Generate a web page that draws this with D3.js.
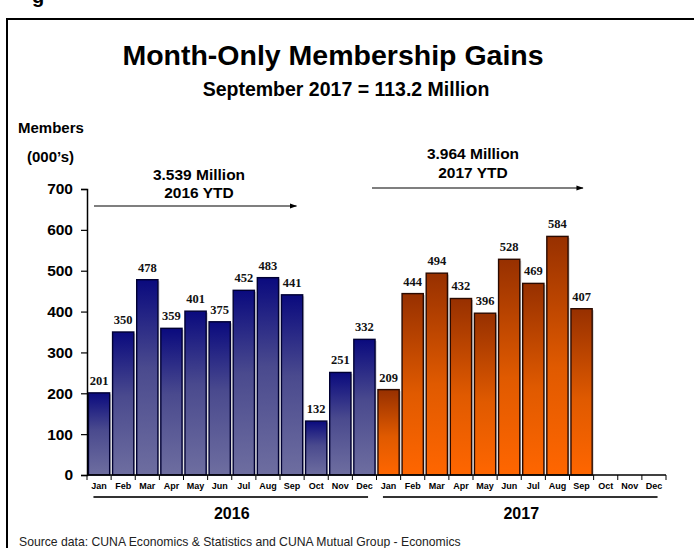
<!DOCTYPE html>
<html>
<head>
<meta charset="utf-8">
<script src="https://cdn.jsdelivr.net/npm/d3@7"></script>
<style>
  html, body { margin: 0; padding: 0; background: #fff; }
  svg { display: block; }
  text { font-family: Arial, "Liberation Sans", sans-serif; }
  text.value { font-family: "Liberation Serif", "Times New Roman", serif; }
</style>
</head>
<body>
<svg id="chart" width="694" height="548"></svg>
<script>
// Monthly membership gains (thousands of members)
const months = ["Jan", "Feb", "Mar", "Apr", "May", "Jun", "Jul", "Aug", "Sep", "Oct", "Nov", "Dec"];
const years = ["2016", "2017"];
const gains2016 = [201, 350, 478, 359, 401, 375, 452, 483, 441, 132, 251, 332];
const gains2017 = [209, 444, 494, 432, 396, 528, 469, 584, 407, null, null, null];
const yTicks = [0, 100, 200, 300, 400, 500, 600, 700];
const ytdNotes = [
  { year: "2016", lines: ["3.539 Million", "2016 YTD"], fromMonth: "Jan", toMonth: "Sep" },
  { year: "2017", lines: ["3.964 Million", "2017 YTD"], fromMonth: "Jan", toMonth: "Sep" }
];

const svg = d3.select("#chart");

const rows = [];
years.forEach((yr, yi) => {
  const vals = yi === 0 ? gains2016 : gains2017;
  months.forEach((m, mi) => rows.push({ key: yr + "-" + m, year: yr, month: m, value: vals[mi] }));
});

const x = d3.scaleBand()
  .domain(rows.map(d => d.key))
  .range([87, 666])
  .paddingInner(0.12)
  .paddingOuter(0.06);

const y = d3.scaleLinear().domain([0, 700]).range([475, 189]);

// Gradients
const defs = svg.append("defs");
const gBlue = defs.append("linearGradient").attr("id", "gradBlue")
  .attr("x1", 0).attr("y1", 0).attr("x2", 0).attr("y2", 1);
gBlue.append("stop").attr("offset", "0%").attr("stop-color", "#0a0a7e");
gBlue.append("stop").attr("offset", "45%").attr("stop-color", "#4a4a8e");
gBlue.append("stop").attr("offset", "100%").attr("stop-color", "#6e6ea0");

const gOrange = defs.append("linearGradient").attr("id", "gradOrange")
  .attr("x1", 0).attr("y1", 0).attr("x2", 0).attr("y2", 1);
gOrange.append("stop").attr("offset", "0%").attr("stop-color", "#973000");
gOrange.append("stop").attr("offset", "55%").attr("stop-color", "#e05a00");
gOrange.append("stop").attr("offset", "100%").attr("stop-color", "#ff6600");

// Partial heading glyph above the frame
svg.append("text").attr("x", 32).attr("y", 3)
  .attr("font-size", 20).attr("font-weight", "bold").attr("fill", "#000").text("g");

// Frame
svg.append("rect").attr("x", 7).attr("y", 19).attr("width", 700).attr("height", 540)
  .attr("fill", "none").attr("stroke", "#000").attr("stroke-width", 2);

// Titles
svg.append("text").attr("x", 333).attr("y", 65).attr("text-anchor", "middle")
  .attr("font-size", 28.5).attr("font-weight", "bold").text("Month-Only Membership Gains");
svg.append("text").attr("x", 346).attr("y", 96).attr("text-anchor", "middle")
  .attr("font-size", 19.5).attr("font-weight", "bold").text("September 2017 = 113.2 Million");

// Y axis caption
svg.append("text").attr("x", 18).attr("y", 133)
  .attr("font-size", 15).attr("font-weight", "bold").text("Members");
svg.append("text").attr("x", 27).attr("y", 162)
  .attr("font-size", 15).attr("font-weight", "bold").text("(000\u2019s)");

// Bars
const bars = rows.filter(d => d.value != null);
svg.append("g").selectAll("rect.shadow").data(bars).join("rect")
  .attr("x", d => x(d.key) + 1.5)
  .attr("y", d => y(d.value) + 1.5)
  .attr("width", x.bandwidth())
  .attr("height", d => y(0) - y(d.value) - 1.5)
  .attr("fill", "#9a9a9a").attr("opacity", 0.5);

svg.append("g").selectAll("rect.bar").data(bars).join("rect")
  .attr("x", d => x(d.key))
  .attr("y", d => y(d.value))
  .attr("width", x.bandwidth())
  .attr("height", d => y(0) - y(d.value))
  .attr("fill", d => d.year === "2016" ? "url(#gradBlue)" : "url(#gradOrange)")
  .attr("stroke", d => d.year === "2016" ? "#000033" : "#2a0a00")
  .attr("stroke-width", 1.4);

// Value labels
svg.append("g").selectAll("text").data(bars).join("text")
  .attr("class", "value")
  .attr("x", d => x(d.key) + x.bandwidth() / 2)
  .attr("y", d => y(d.value) - 8)
  .attr("text-anchor", "middle")
  .attr("font-size", 12.5).attr("font-weight", "bold")
  .attr("fill", "#111")
  .text(d => d.value);

// Y axis
const yAxis = d3.axisLeft(y).tickValues(yTicks).tickSize(6).tickPadding(8);
const gy = svg.append("g").attr("transform", "translate(87,0)").call(yAxis);
gy.attr("font-family", null);
gy.select(".domain").attr("stroke", "#000").attr("stroke-width", 1.5);
gy.selectAll(".tick line").attr("stroke", "#000").attr("stroke-width", 1.2);
gy.selectAll(".tick text").attr("font-size", 15.5).attr("font-weight", "bold").attr("fill", "#000");

// X axis with month labels
const xAxis = d3.axisBottom(x).tickSize(0).tickPadding(8).tickFormat(k => k.split("-")[1]);
const gx = svg.append("g").attr("transform", "translate(0,475)").call(xAxis);
gx.attr("font-family", null);
gx.select(".domain").remove();
gx.selectAll(".tick text").attr("font-size", 9).attr("font-weight", "bold").attr("fill", "#000");

svg.append("line").attr("x1", 87).attr("x2", 666).attr("y1", 475).attr("y2", 475)
  .attr("stroke", "#000").attr("stroke-width", 1.5);

// Ticks at band boundaries
const step = x.step();
const edges = d3.range(rows.length + 1).map(i => x.range()[0] + i * step);
svg.append("g").selectAll("line").data(edges).join("line")
  .attr("x1", d => d).attr("x2", d => d)
  .attr("y1", 475).attr("y2", 480)
  .attr("stroke", "#000").attr("stroke-width", 1);

// Year group lines and labels
years.forEach(yr => {
  const first = x(yr + "-Jan"), last = x(yr + "-Dec") + x.bandwidth();
  svg.append("line")
    .attr("x1", first + 5).attr("x2", last - 7)
    .attr("y1", 497).attr("y2", 497)
    .attr("stroke", "#333").attr("stroke-width", 2);
  svg.append("text")
    .attr("x", (first + last) / 2).attr("y", 518.5)
    .attr("text-anchor", "middle")
    .attr("font-size", 16).attr("font-weight", "bold").text(yr);
});

// YTD annotations with arrows
defs.append("marker").attr("id", "arrowHead")
  .attr("viewBox", "0 0 10 10").attr("refX", 9).attr("refY", 5)
  .attr("markerWidth", 6).attr("markerHeight", 6).attr("orient", "auto")
  .append("path").attr("d", "M0,1.5 L10,5 L0,8.5 Z").attr("fill", "#000");

const notePos = {
  "2016": { textY: [180, 198], arrowY: 206, cx: 199, startOff: 5.5, endOff: 15 },
  "2017": { textY: [159, 178], arrowY: 188, cx: 473, startOff: -6, endOff: 12 }
};
ytdNotes.forEach(n => {
  const p = notePos[n.year];
  const x1 = x(n.year + "-" + n.fromMonth) + p.startOff;
  const x2 = x(n.year + "-" + n.toMonth) + p.endOff;
  svg.append("line").attr("x1", x1).attr("x2", x2)
    .attr("y1", p.arrowY).attr("y2", p.arrowY)
    .attr("stroke", "#000").attr("stroke-width", 1.2)
    .attr("marker-end", "url(#arrowHead)");
  n.lines.forEach((t, i) => {
    svg.append("text").attr("x", p.cx).attr("y", p.textY[i])
      .attr("text-anchor", "middle")
      .attr("font-size", 15.5).attr("font-weight", "bold").text(t);
  });
});

// Source note
svg.append("text").attr("x", 19).attr("y", 546)
  .attr("font-size", 12.2).attr("fill", "#222")
  .text("Source data: CUNA Economics & Statistics and CUNA Mutual Group - Economics");
</script>
</body>
</html>
